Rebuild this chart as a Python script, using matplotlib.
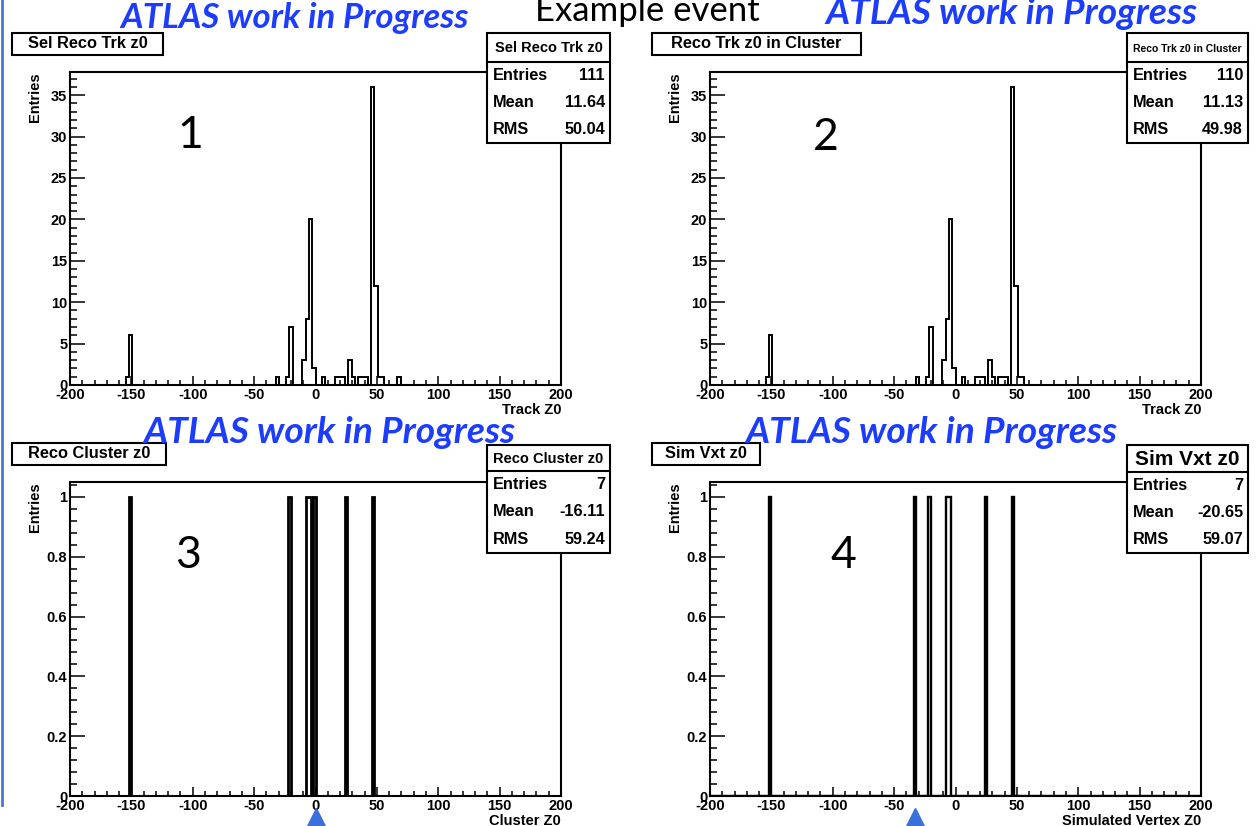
import matplotlib
matplotlib.use('Agg')
import matplotlib.pyplot as plt
from matplotlib.patches import Rectangle
from matplotlib.lines import Line2D
from matplotlib.ticker import MultipleLocator, FuncFormatter
import numpy as np

W, H = 1256, 826

# track z0 histograms (150 bins over -200..200): bin centres and entries
trk_z0 = [-153.3, -150.7, -30.7, -22.7, -20.0, -9.3, -6.7, -4.0, -1.3, 6.7,
          17.3, 20.0, 22.7, 28.0, 30.7, 36.0, 38.7, 41.3, 46.7, 49.3, 52.0, 54.7, 68.0]
sel_counts = [1, 6, 1, 1, 7, 3, 8, 20, 2, 1, 1, 1, 1, 3, 1, 1, 1, 1, 36, 12, 1, 1, 1]
clu_counts = [1, 6, 1, 1, 7, 3, 8, 20, 2, 1, 1, 1, 1, 3, 1, 1, 1, 1, 36, 12, 1, 1, 0]

# reconstructed cluster and simulated vertex positions (mm)
cluster_z0 = [-151.5, -21.2, -7.4, -4.9, -0.7, 25.6, 47.6]
simvtx_z0 = [-150.9, -33.0, -21.1, -7.1, -4.9, 25.2, 47.3]

titles = ['Sel Reco Trk z0', 'Reco Trk z0 in Cluster', 'Reco Cluster z0', 'Sim Vxt z0']
xlabels = ['Track Z0', 'Track Z0', 'Cluster Z0', 'Simulated Vertex Z0']
entries = [111, 110, 7, 7]
means = ['11.64', '11.13', '-16.11', '-20.65']
rmss = ['50.04', '49.98', '59.24', '59.07']
panel_ids = ['1', '2', '3', '4']
true_vtx = [0.0, -33.0]   # markers under the bottom panels

plt.rcParams['font.family'] = ['Liberation Sans', 'DejaVu Sans']
plt.rcParams['font.weight'] = 'bold'

fig = plt.figure(figsize=(W / 100, H / 100), dpi=100)


def fx(x):
    return x / W


def fy(y):
    return 1 - y / H


def add_axes_px(x0, y0, x1, y1):
    return fig.add_axes([fx(x0), fy(y1), (x1 - x0) / W, (y1 - y0) / H])


def box_px(x0, y0, x1, y1, lw=1.5):
    r = Rectangle((fx(x0), fy(y1)), (x1 - x0) / W, (y1 - y0) / H,
                  transform=fig.transFigure, facecolor='white',
                  edgecolor='black', lw=lw, zorder=5)
    fig.patches.append(r)


def text_px(x, y, s, **kw):
    kw.setdefault('zorder', 6)
    fig.text(fx(x), fy(y), s, **kw)


fmt = FuncFormatter(lambda v, p: '%g' % round(v, 6))

ax_pos = [(70, 72, 561, 385), (710, 72, 1201, 385),
          (70, 482, 561, 796), (710, 482, 1201, 796)]
axes = [add_axes_px(*p) for p in ax_pos]

edges_trk = np.linspace(-200, 200, 151)
edges_vtx = np.linspace(-200, 200, 201)

axes[0].hist(trk_z0, bins=edges_trk, weights=sel_counts, histtype='step',
             color='black', lw=1.4)
axes[1].hist(trk_z0, bins=edges_trk, weights=clu_counts, histtype='step',
             color='black', lw=1.4)
axes[2].hist(cluster_z0, bins=edges_vtx, histtype='step', color='black', lw=2.0)
axes[3].hist(simvtx_z0, bins=edges_vtx, histtype='step', color='black', lw=1.7)

for i, ax in enumerate(axes):
    ax.set_xlim(-200, 200)
    if i < 2:
        ax.set_ylim(0, 36 * 1.05)
        ax.yaxis.set_major_locator(MultipleLocator(5))
        ax.yaxis.set_minor_locator(MultipleLocator(1))
    else:
        ax.set_ylim(0, 1.05)
        ax.yaxis.set_major_locator(MultipleLocator(0.2))
        ax.yaxis.set_minor_locator(MultipleLocator(0.04))
    ax.xaxis.set_major_locator(MultipleLocator(50))
    ax.xaxis.set_minor_locator(MultipleLocator(10))
    ax.yaxis.set_major_formatter(fmt)
    ax.xaxis.set_major_formatter(fmt)
    for s in ax.spines.values():
        s.set_linewidth(1.5)
    ax.tick_params(which='both', direction='in', top=False, right=False,
                   width=1.1, labelsize=10.5, pad=2)
    ax.tick_params(axis='y', which='major', length=10.6)
    ax.tick_params(axis='y', which='minor', length=5.3)
    ax.tick_params(axis='x', which='major', length=6.8)
    ax.tick_params(axis='x', which='minor', length=3.4)
    for lab in ax.get_xticklabels() + ax.get_yticklabels():
        lab.set_fontweight('bold')
    ax.set_xlabel(xlabels[i], loc='right', fontsize=10.5, fontweight='bold', labelpad=1)
    ax.set_ylabel('Entries', loc='top', fontsize=10.5, fontweight='bold')
    ax.yaxis.set_label_coords(-0.058, 1.0)

# histogram titles
title_boxes = [(12, 33, 163, 55), (652, 33, 861, 55),
               (12, 443, 166, 465), (652, 443, 760, 465)]
for (x0, y0, x1, y1), t in zip(title_boxes, titles):
    box_px(x0, y0, x1, y1)
    text_px((x0 + x1) / 2, (y0 + y1) / 2, t, ha='center', va='center',
            fontsize=11.8, fontweight='bold')

# statistics boxes
stat_boxes = [(487, 33, 610, 143, 62), (1127, 33, 1248, 143, 62),
              (487, 445, 610, 553, 471), (1127, 445, 1248, 553, 472)]
head_sizes = [10.5, 7.5, 10.5, 15]
for i, (x0, y0, x1, y1, yh) in enumerate(stat_boxes):
    box_px(x0, y0, x1, y1)
    fig.add_artist(Line2D([fx(x0), fx(x1)], [fy(yh), fy(yh)],
                          transform=fig.transFigure, color='black', lw=1.5, zorder=6))
    text_px((x0 + x1) / 2, (y0 + yh) / 2 + 1, titles[i], ha='center', va='center',
            fontsize=head_sizes[i], fontweight='bold')
    rows = [('Entries', str(entries[i])), ('Mean', means[i]), ('RMS', rmss[i])]
    row_h = (y1 - yh) / 3
    for j, (k, v) in enumerate(rows):
        yc = yh + row_h * (j + 0.5)
        text_px(x0 + 6, yc, k, ha='left', va='center', fontsize=11.7, fontweight='bold')
        text_px(x1 - 5, yc, v, ha='right', va='center', fontsize=11.7, fontweight='bold')

# panel numbers
for (x, y), s in zip([(190, 135), (826, 137), (188, 555), (843, 555)], panel_ids):
    text_px(x, y, s, ha='center', va='center', fontsize=32, fontweight='normal',
            family=['Lato', 'DejaVu Sans'])

# ATLAS labels
atlas_kw = dict(color='#1c3cff', fontweight='bold', style='italic',
                family=['Lato', 'DejaVu Sans'], va='baseline', ha='left', zorder=8)
for x, y, fs in [(120, 28, 25), (825, 24, 26.7), (143, 443, 26.7), (745, 443, 26.7)]:
    text_px(x, y, 'ATLAS work in Progress', fontsize=fs, **atlas_kw)

text_px(647, 21, 'Example event', ha='center', va='baseline', fontsize=25,
        fontweight='normal', family=['Lato', 'DejaVu Sans'], zorder=4)

# vertex markers below the bottom panels
for ax, xv in zip(axes[2:], true_vtx):
    ax.plot([xv], [-0.08], marker='^', ms=19, color='#3b70dc', mec='#3b70dc',
            transform=ax.get_xaxis_transform(), clip_on=False, zorder=10)

# slide border on the left
fig.add_artist(Line2D([fx(1.5), fx(1.5)], [fy(0), fy(805)], transform=fig.transFigure,
                      color='#4a78d0', lw=2))

fig.savefig('out.png', dpi=100)
